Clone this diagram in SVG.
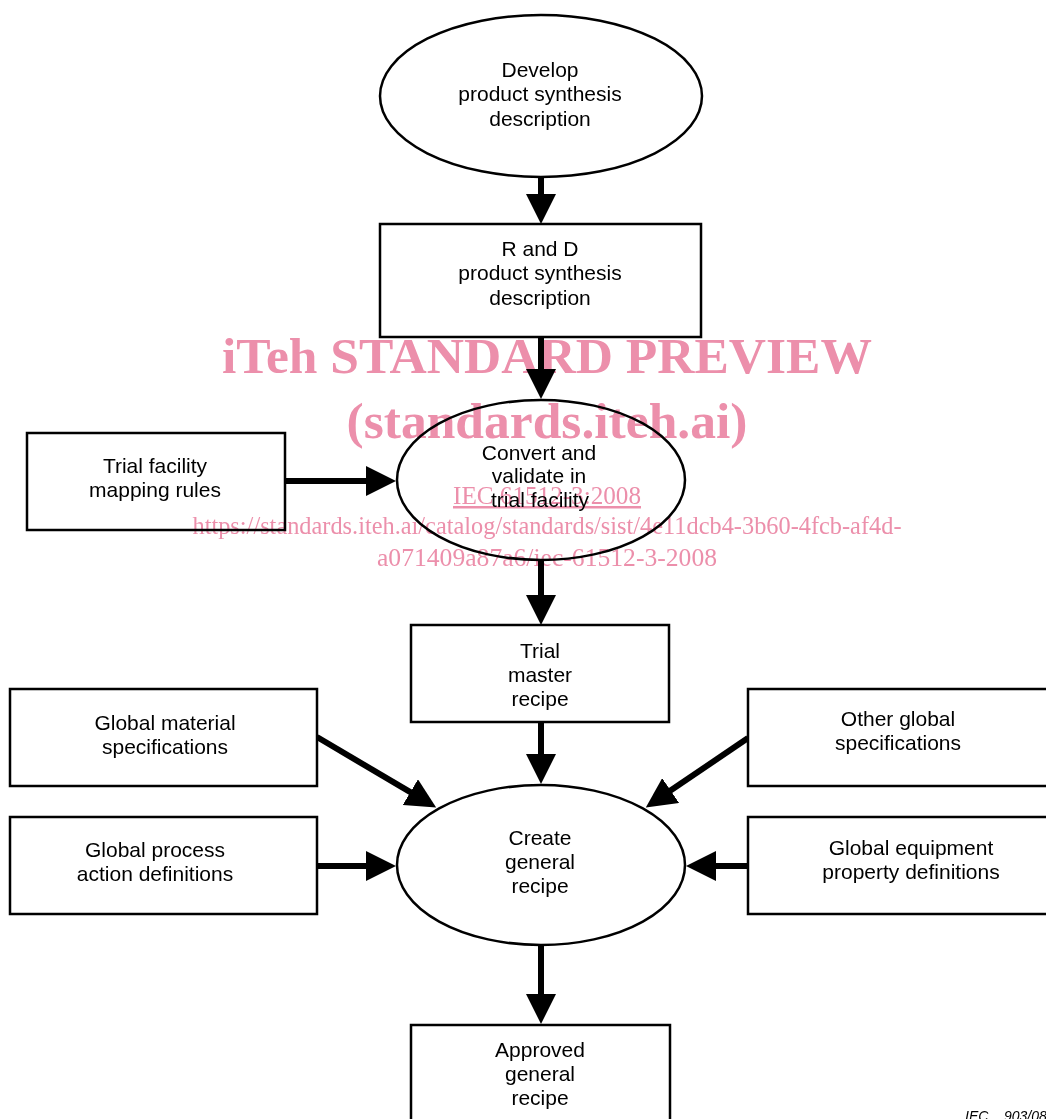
<svg xmlns="http://www.w3.org/2000/svg" width="1046" height="1119" viewBox="0 0 1046 1119">
<style>
.shape{fill:#fff;stroke:#000;stroke-width:2.5}
.lbl{font-family:"Liberation Sans",Arial,sans-serif;font-size:21px;fill:#000;text-anchor:middle}
.conn{stroke:#000;stroke-width:6;fill:none}
.wm{font-family:"Liberation Serif","Times New Roman",serif;fill:#ec8fab;text-anchor:middle}
.foot{font-family:"Liberation Sans",Arial,sans-serif;font-size:14px;font-style:italic;fill:#000}
</style>
<defs>
<marker id="ah" markerUnits="userSpaceOnUse" viewBox="0 0 30 30" refX="1" refY="15" markerWidth="30" markerHeight="30" orient="auto">
<path d="M0,0 L30,15 L0,30 Z" fill="#000"/>
</marker>
</defs>
<rect width="1046" height="1119" fill="#fff"/>

<g id="connectors">
<line class="conn" x1="541" y1="177" x2="541" y2="195" marker-end="url(#ah)"/>
<line class="conn" x1="541" y1="337" x2="541" y2="370" marker-end="url(#ah)"/>
<line class="conn" x1="285" y1="481" x2="367" y2="481" marker-end="url(#ah)"/>
<line class="conn" x1="541" y1="560" x2="541" y2="596" marker-end="url(#ah)"/>
<line class="conn" x1="541" y1="722" x2="541" y2="755" marker-end="url(#ah)"/>
<line class="conn" x1="317" y1="737" x2="411.2" y2="792.7" marker-end="url(#ah)"/>
<line class="conn" x1="748" y1="738" x2="669.8" y2="791.1" marker-end="url(#ah)"/>
<line class="conn" x1="317" y1="866" x2="367" y2="866" marker-end="url(#ah)"/>
<line class="conn" x1="748" y1="866" x2="715" y2="866" marker-end="url(#ah)"/>
<line class="conn" x1="541" y1="945" x2="541" y2="995" marker-end="url(#ah)"/>
</g>

<g id="develop">
<ellipse class="shape" cx="541" cy="96" rx="161" ry="81"/>
<text class="lbl" x="540" y="77">Develop</text>
<text class="lbl" x="540" y="101">product synthesis</text>
<text class="lbl" x="540" y="126">description</text>
</g>

<g id="rd">
<rect class="shape" x="380" y="224" width="321" height="113"/>
<text class="lbl" x="540" y="256">R and D</text>
<text class="lbl" x="540" y="280">product synthesis</text>
<text class="lbl" x="540" y="305">description</text>
</g>

<g id="mapping">
<rect class="shape" x="27" y="433" width="258" height="97"/>
<text class="lbl" x="155" y="473">Trial facility</text>
<text class="lbl" x="155" y="497">mapping rules</text>
</g>

<g id="convert">
<ellipse class="shape" cx="541" cy="480" rx="144" ry="80"/>
<text class="lbl" x="539" y="460">Convert and</text>
<text class="lbl" x="539" y="483">validate in</text>
<text class="lbl" x="540" y="507">trial facility</text>
</g>

<g id="trialmaster">
<rect class="shape" x="411" y="625" width="258" height="97"/>
<text class="lbl" x="540" y="658">Trial</text>
<text class="lbl" x="540" y="682">master</text>
<text class="lbl" x="540" y="706">recipe</text>
</g>

<g id="material">
<rect class="shape" x="10" y="689" width="307" height="97"/>
<text class="lbl" x="165" y="730">Global material</text>
<text class="lbl" x="165" y="754">specifications</text>
</g>

<g id="process">
<rect class="shape" x="10" y="817" width="307" height="97"/>
<text class="lbl" x="155" y="857">Global process</text>
<text class="lbl" x="155" y="881">action definitions</text>
</g>

<g id="other">
<rect class="shape" x="748" y="689" width="320" height="97"/>
<text class="lbl" x="898" y="726">Other global</text>
<text class="lbl" x="898" y="750">specifications</text>
</g>

<g id="equipment">
<rect class="shape" x="748" y="817" width="320" height="97"/>
<text class="lbl" x="911" y="855">Global equipment</text>
<text class="lbl" x="911" y="879">property definitions</text>
</g>

<g id="create">
<ellipse class="shape" cx="541" cy="865" rx="144" ry="80"/>
<text class="lbl" x="540" y="845">Create</text>
<text class="lbl" x="540" y="869">general</text>
<text class="lbl" x="540" y="893">recipe</text>
</g>

<g id="approved">
<rect class="shape" x="411" y="1025" width="259" height="110"/>
<text class="lbl" x="540" y="1057">Approved</text>
<text class="lbl" x="540" y="1081">general</text>
<text class="lbl" x="540" y="1105">recipe</text>
</g>

<g id="footer">
<text class="foot" x="965" y="1121">IEC</text>
<text class="foot" x="1004" y="1121">903/08</text>
</g>

<g id="watermark" style="mix-blend-mode:multiply">
<text class="wm" x="547" y="373" font-size="50" font-weight="bold" textLength="650" lengthAdjust="spacingAndGlyphs">iTeh STANDARD PREVIEW</text>
<text class="wm" x="547" y="438" font-size="50" font-weight="bold" textLength="401" lengthAdjust="spacingAndGlyphs">(standards.iteh.ai)</text>
<text class="wm" x="547" y="504" font-size="25" text-decoration="underline" textLength="188" lengthAdjust="spacingAndGlyphs">IEC 61512-3:2008</text>
<text class="wm" x="547" y="534" font-size="25" textLength="709" lengthAdjust="spacingAndGlyphs">https://standards.iteh.ai/catalog/standards/sist/4e11dcb4-3b60-4fcb-af4d-</text>
<text class="wm" x="547" y="566" font-size="25" textLength="340" lengthAdjust="spacingAndGlyphs">a071409a87a6/iec-61512-3-2008</text>
</g>
</svg>
